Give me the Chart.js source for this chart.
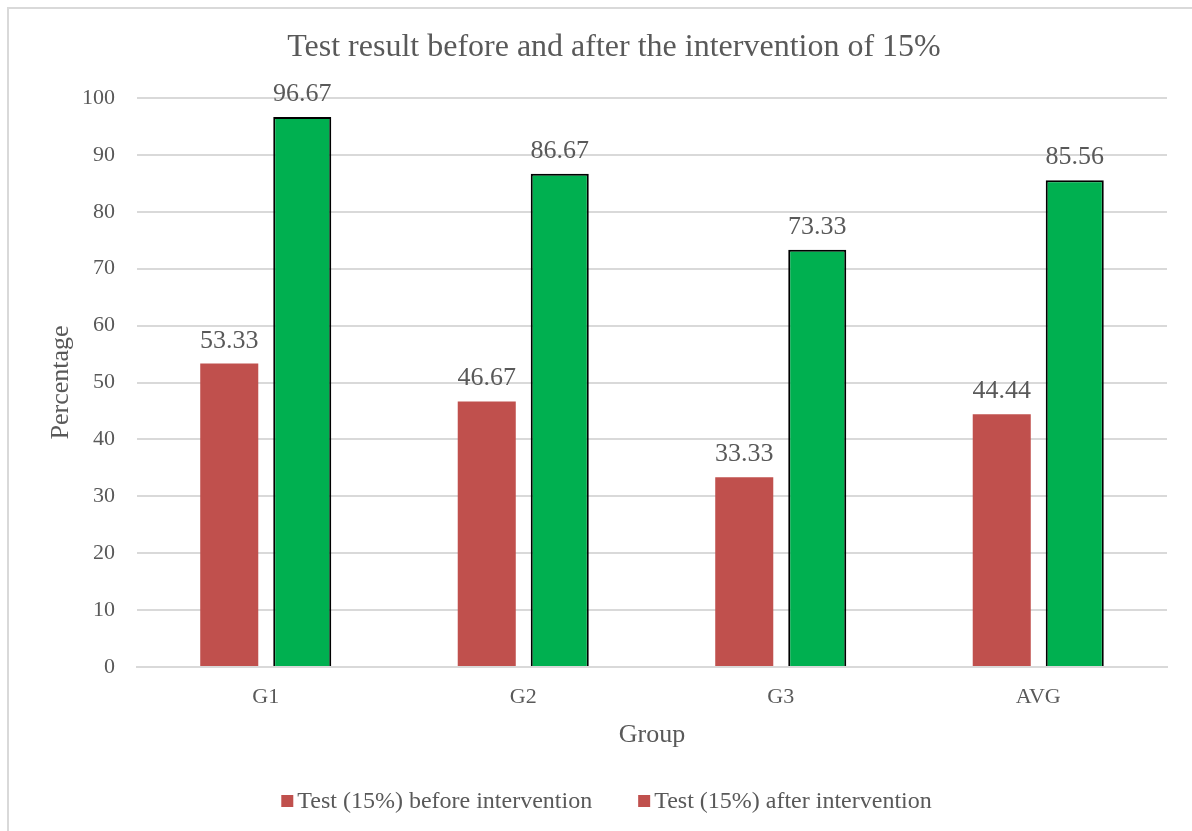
<!DOCTYPE html>
<html>
<head>
<meta charset="utf-8">
<script src="https://cdn.jsdelivr.net/npm/chart.js@4/dist/chart.umd.min.js"></script>
<style>
  html, body { margin: 0; padding: 0; background: #fff; overflow: hidden; }
  #wrap { position: relative; width: 1192px; height: 831px; }
  #frame { position: absolute; left: 7px; top: 7px; width: 1200px; height: 840px; border: 2px solid #d9d9d9; box-sizing: border-box; }
  canvas { position: absolute; left: 0; top: 0; }
</style>
</head>
<body>
<div id="wrap">
  <div id="frame"></div>
  <canvas id="c" width="1192" height="831"></canvas>
</div>
<script>
const categories = ['G1', 'G2', 'G3', 'AVG'];
const beforeValues = [53.33, 46.67, 33.33, 44.44];
const afterValues = [96.67, 86.67, 73.33, 85.56];
const seriesNames = ['Test (15%) before intervention', 'Test (15%) after intervention'];
const titleText = 'Test result before and after the intervention of 15%';

const FONT = "'Liberation Serif', 'Times New Roman', serif";
const TXT = '#595959';
const RED = '#C0504D';
const GREEN = '#00B050';

const decorPlugin = {
  id: 'decor',
  afterDatasetsDraw(chart) {
    const ctx = chart.ctx;
    ctx.save();
    // data labels
    ctx.font = '26px ' + FONT;
    ctx.fillStyle = TXT;
    ctx.textAlign = 'center';
    ctx.textBaseline = 'alphabetic';
    chart.data.datasets.forEach((ds, i) => {
      const meta = chart.getDatasetMeta(i);
      meta.data.forEach((bar, j) => {
        ctx.fillText(ds.data[j].toFixed(2), bar.x, bar.y - 16);
      });
    });
    // title
    ctx.font = '32px ' + FONT;
    ctx.textBaseline = 'middle';
    ctx.fillText(titleText, 614, 48);
    // legend (both swatches red, as in the source)
    ctx.font = '24px ' + FONT;
    ctx.textAlign = 'left';
    const box = 12, gapText = 4, gapItem = 46;
    const widths = seriesNames.map(n => box + gapText + ctx.measureText(n).width);
    const total = widths[0] + widths[1] + gapItem;
    let x = 606.5 - total / 2;
    const cy = 801;
    seriesNames.forEach((n, i) => {
      ctx.fillStyle = RED;
      ctx.fillRect(x, cy - box / 2, box, box);
      ctx.fillStyle = TXT;
      ctx.fillText(n, x + box + gapText, cy + 1);
      x += widths[i] + gapItem;
    });
    ctx.restore();
  }
};

new Chart(document.getElementById('c'), {
  type: 'bar',
  data: {
    labels: categories,
    datasets: [
      { label: seriesNames[0], data: beforeValues, backgroundColor: RED, borderWidth: 0 },
      { label: seriesNames[1], data: afterValues, backgroundColor: GREEN, borderColor: '#000000', borderWidth: 2 }
    ]
  },
  options: {
    responsive: false,
    animation: false,
    devicePixelRatio: 1,
    layout: { padding: { left: 30, right: 25, top: 98, bottom: 75 } },
    datasets: { bar: { categoryPercentage: 0.567, barPercentage: 0.795 } },
    plugins: {
      title: { display: false },
      legend: { display: false },
      tooltip: { enabled: false }
    },
    scales: {
      x: {
        grid: { display: false, drawTicks: false },
        border: { display: true, color: '#d9d9d9', width: 2 },
        ticks: { color: TXT, font: { family: FONT, size: 22 }, padding: 17 },
        title: { display: true, text: 'Group', color: TXT, font: { family: FONT, size: 26 }, padding: { top: 0, bottom: 5 } },
        afterFit(s) { s.height = 89; }
      },
      y: {
        min: 0, max: 100,
        grid: { color: '#d9d9d9', lineWidth: 2, drawTicks: false },
        border: { display: false },
        ticks: { stepSize: 10, color: TXT, font: { family: FONT, size: 22 }, padding: 22 },
        title: { display: true, text: 'Percentage', color: TXT, font: { family: FONT, size: 26 }, padding: { top: 16 } },
        afterFit(s) { s.width = 107; }
      }
    }
  },
  plugins: [decorPlugin]
});
</script>
</body>
</html>
